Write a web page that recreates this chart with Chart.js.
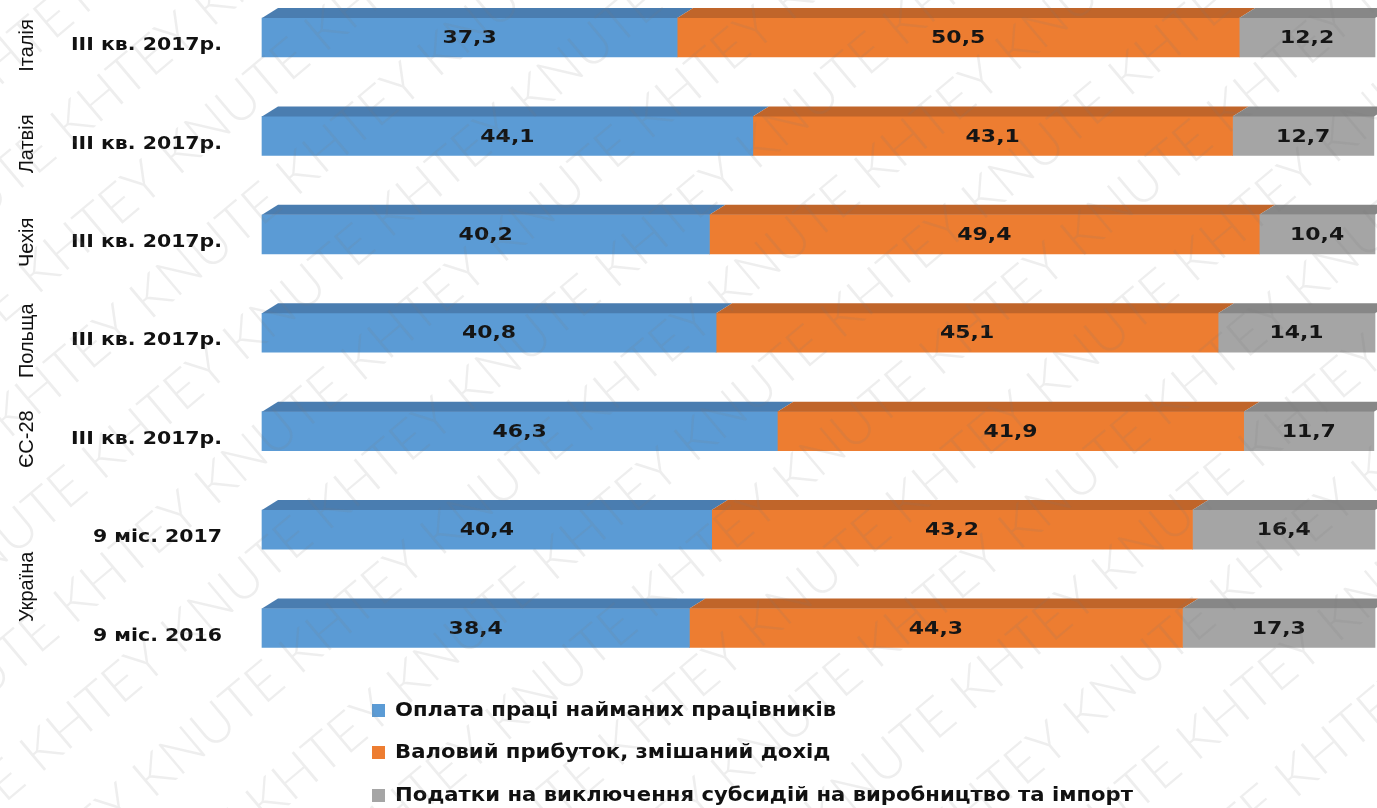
<!DOCTYPE html>
<html lang="uk">
<head>
<meta charset="utf-8">
<title>Структура ВВП за доходами</title>
<script src="https://cdn.jsdelivr.net/npm/chart.js@4.4.1/dist/chart.umd.min.js"></script>
<style>
  html, body { margin: 0; padding: 0; background: #fff; }
  #wrap { width: 1377px; height: 808px; }
</style>
</head>
<body>
<div id="wrap"><canvas id="chart" width="1377" height="808"></canvas></div>
<script>
// Дані діаграми
const countries = ['Італія', 'Латвія', 'Чехія', 'Польща', 'ЄС-28', 'Україна', 'Україна'];
const periods = ['III кв. 2017р.', 'III кв. 2017р.', 'III кв. 2017р.', 'III кв. 2017р.', 'III кв. 2017р.', '9 міс. 2017', '9 міс. 2016'];
const wages = [37.3, 44.1, 40.2, 40.8, 46.3, 40.4, 38.4];
const profit = [50.5, 43.1, 49.4, 45.1, 41.9, 43.2, 44.3];
const taxes = [12.2, 12.7, 10.4, 14.1, 11.7, 16.4, 17.3];
const seriesNames = [
  'Оплата праці найманих працівників',
  'Валовий прибуток, змішаний дохід',
  'Податки на виключення субсидій на виробництво та імпорт'
];

const frontColors = ['#5b9bd5', '#ed7d31', '#a5a5a5'];
const topColors = ['#4a7db0', '#c0652a', '#878787'];

// текст, розтягнутий по горизонталі
function wideText(ctx, txt, x, y, sx) {
  ctx.save();
  ctx.translate(x, y);
  ctx.scale(sx, 1);
  ctx.fillText(txt, 0, 0);
  ctx.restore();
}

// Об'ємний верх стовпчиків + підписи значень
const depthPlugin = {
  id: 'depth',
  afterDatasetsDraw(chart) {
    const ctx = chart.ctx;
    const dx = 16, dy = 10;
    ctx.save();
    chart.data.datasets.forEach((ds, di) => {
      const meta = chart.getDatasetMeta(di);
      meta.data.forEach(bar => {
        const top = bar.y - bar.height / 2;
        ctx.fillStyle = topColors[di];
        ctx.beginPath();
        ctx.moveTo(bar.base, top);
        ctx.lineTo(bar.x, top);
        ctx.lineTo(bar.x + dx, top - dy);
        ctx.lineTo(bar.base + dx, top - dy);
        ctx.closePath();
        ctx.fill();
      });
    });
    ctx.font = 'bold 18px "DejaVu Sans", Verdana, sans-serif';
    ctx.fillStyle = '#151515';
    ctx.textAlign = 'center';
    ctx.textBaseline = 'middle';
    chart.data.datasets.forEach((ds, di) => {
      const meta = chart.getDatasetMeta(di);
      meta.data.forEach((bar, i) => {
        const txt = ds.data[i].toFixed(1).replace('.', ',');
        wideText(ctx, txt, (bar.base + bar.x) / 2, bar.y + 1, 1.22);
      });
    });
    ctx.restore();
  }
};

// Підписи осі, легенда, водяний знак
const labelsPlugin = {
  id: 'labels',
  afterDraw(chart) {
    const ctx = chart.ctx;
    const yScale = chart.scales.y;
    ctx.save();

    // періоди
    ctx.font = 'bold 18px "DejaVu Sans", Verdana, sans-serif';
    ctx.fillStyle = '#111';
    ctx.textAlign = 'right';
    ctx.textBaseline = 'middle';
    const pScale = 151 / ctx.measureText(periods[0]).width;
    periods.forEach((p, i) => {
      wideText(ctx, p, 222, yScale.getPixelForValue(i) + 8, pScale);
    });

    // країни (повернуті)
    ctx.font = '20px "Liberation Sans Narrow", "Liberation Sans", sans-serif';
    ctx.textAlign = 'center';
    const seen = [];
    countries.forEach(c => {
      if (seen.includes(c)) return;
      seen.push(c);
      const idx = countries.map((n, i) => n === c ? i : -1).filter(i => i >= 0);
      const y = idx.reduce((s, i) => s + yScale.getPixelForValue(i), 0) / idx.length + 8;
      ctx.save();
      ctx.translate(27, y);
      ctx.rotate(-Math.PI / 2);
      ctx.fillText(c, 0, 0);
      ctx.restore();
    });

    // легенда
    const legY = [710, 752, 795];
    ctx.font = 'bold 19px "DejaVu Sans", Verdana, sans-serif';
    ctx.textAlign = 'left';
    const lScale = 738 / ctx.measureText(seriesNames[2]).width;
    seriesNames.forEach((name, i) => {
      ctx.fillStyle = frontColors[i];
      ctx.fillRect(372, legY[i] - 6, 13, 13);
      ctx.fillStyle = '#111';
      wideText(ctx, name, 395, legY[i] + 1, lScale);
    });

    // водяний знак
    ctx.font = '300 54px Lato, "Liberation Sans", sans-serif';
    ctx.fillStyle = 'rgba(120, 120, 120, 0.13)';
    ctx.textAlign = 'left';
    ctx.textBaseline = 'alphabetic';
    ctx.translate(0, 808);
    ctx.rotate(-0.7);
    for (let r = -10; r < 16; r++) {
      const word = r % 2 === 0 ? 'KHTEY KNUTE ' : 'KNUTE KHTEY ';
      ctx.fillText(word.repeat(7), -700 + (r % 3) * 70, r * 92);
    }
    ctx.restore();
  }
};

const ctx = document.getElementById('chart').getContext('2d');
new Chart(ctx, {
  type: 'bar',
  data: {
    labels: periods,
    datasets: [
      { label: seriesNames[0], data: wages, backgroundColor: frontColors[0], clip: false },
      { label: seriesNames[1], data: profit, backgroundColor: frontColors[1], clip: false },
      { label: seriesNames[2], data: taxes, backgroundColor: frontColors[2], clip: false }
    ]
  },
  options: {
    indexAxis: 'y',
    responsive: false,
    animation: false,
    barThickness: 39,
    layout: { padding: { left: 262, right: 2, top: 37.5, bottom: 180 } },
    scales: {
      x: { stacked: true, min: 0, max: 100, display: false },
      y: { stacked: true, display: false, offset: false }
    },
    plugins: {
      legend: { display: false },
      tooltip: { enabled: false }
    }
  },
  plugins: [depthPlugin, labelsPlugin]
});
</script>
</body>
</html>
